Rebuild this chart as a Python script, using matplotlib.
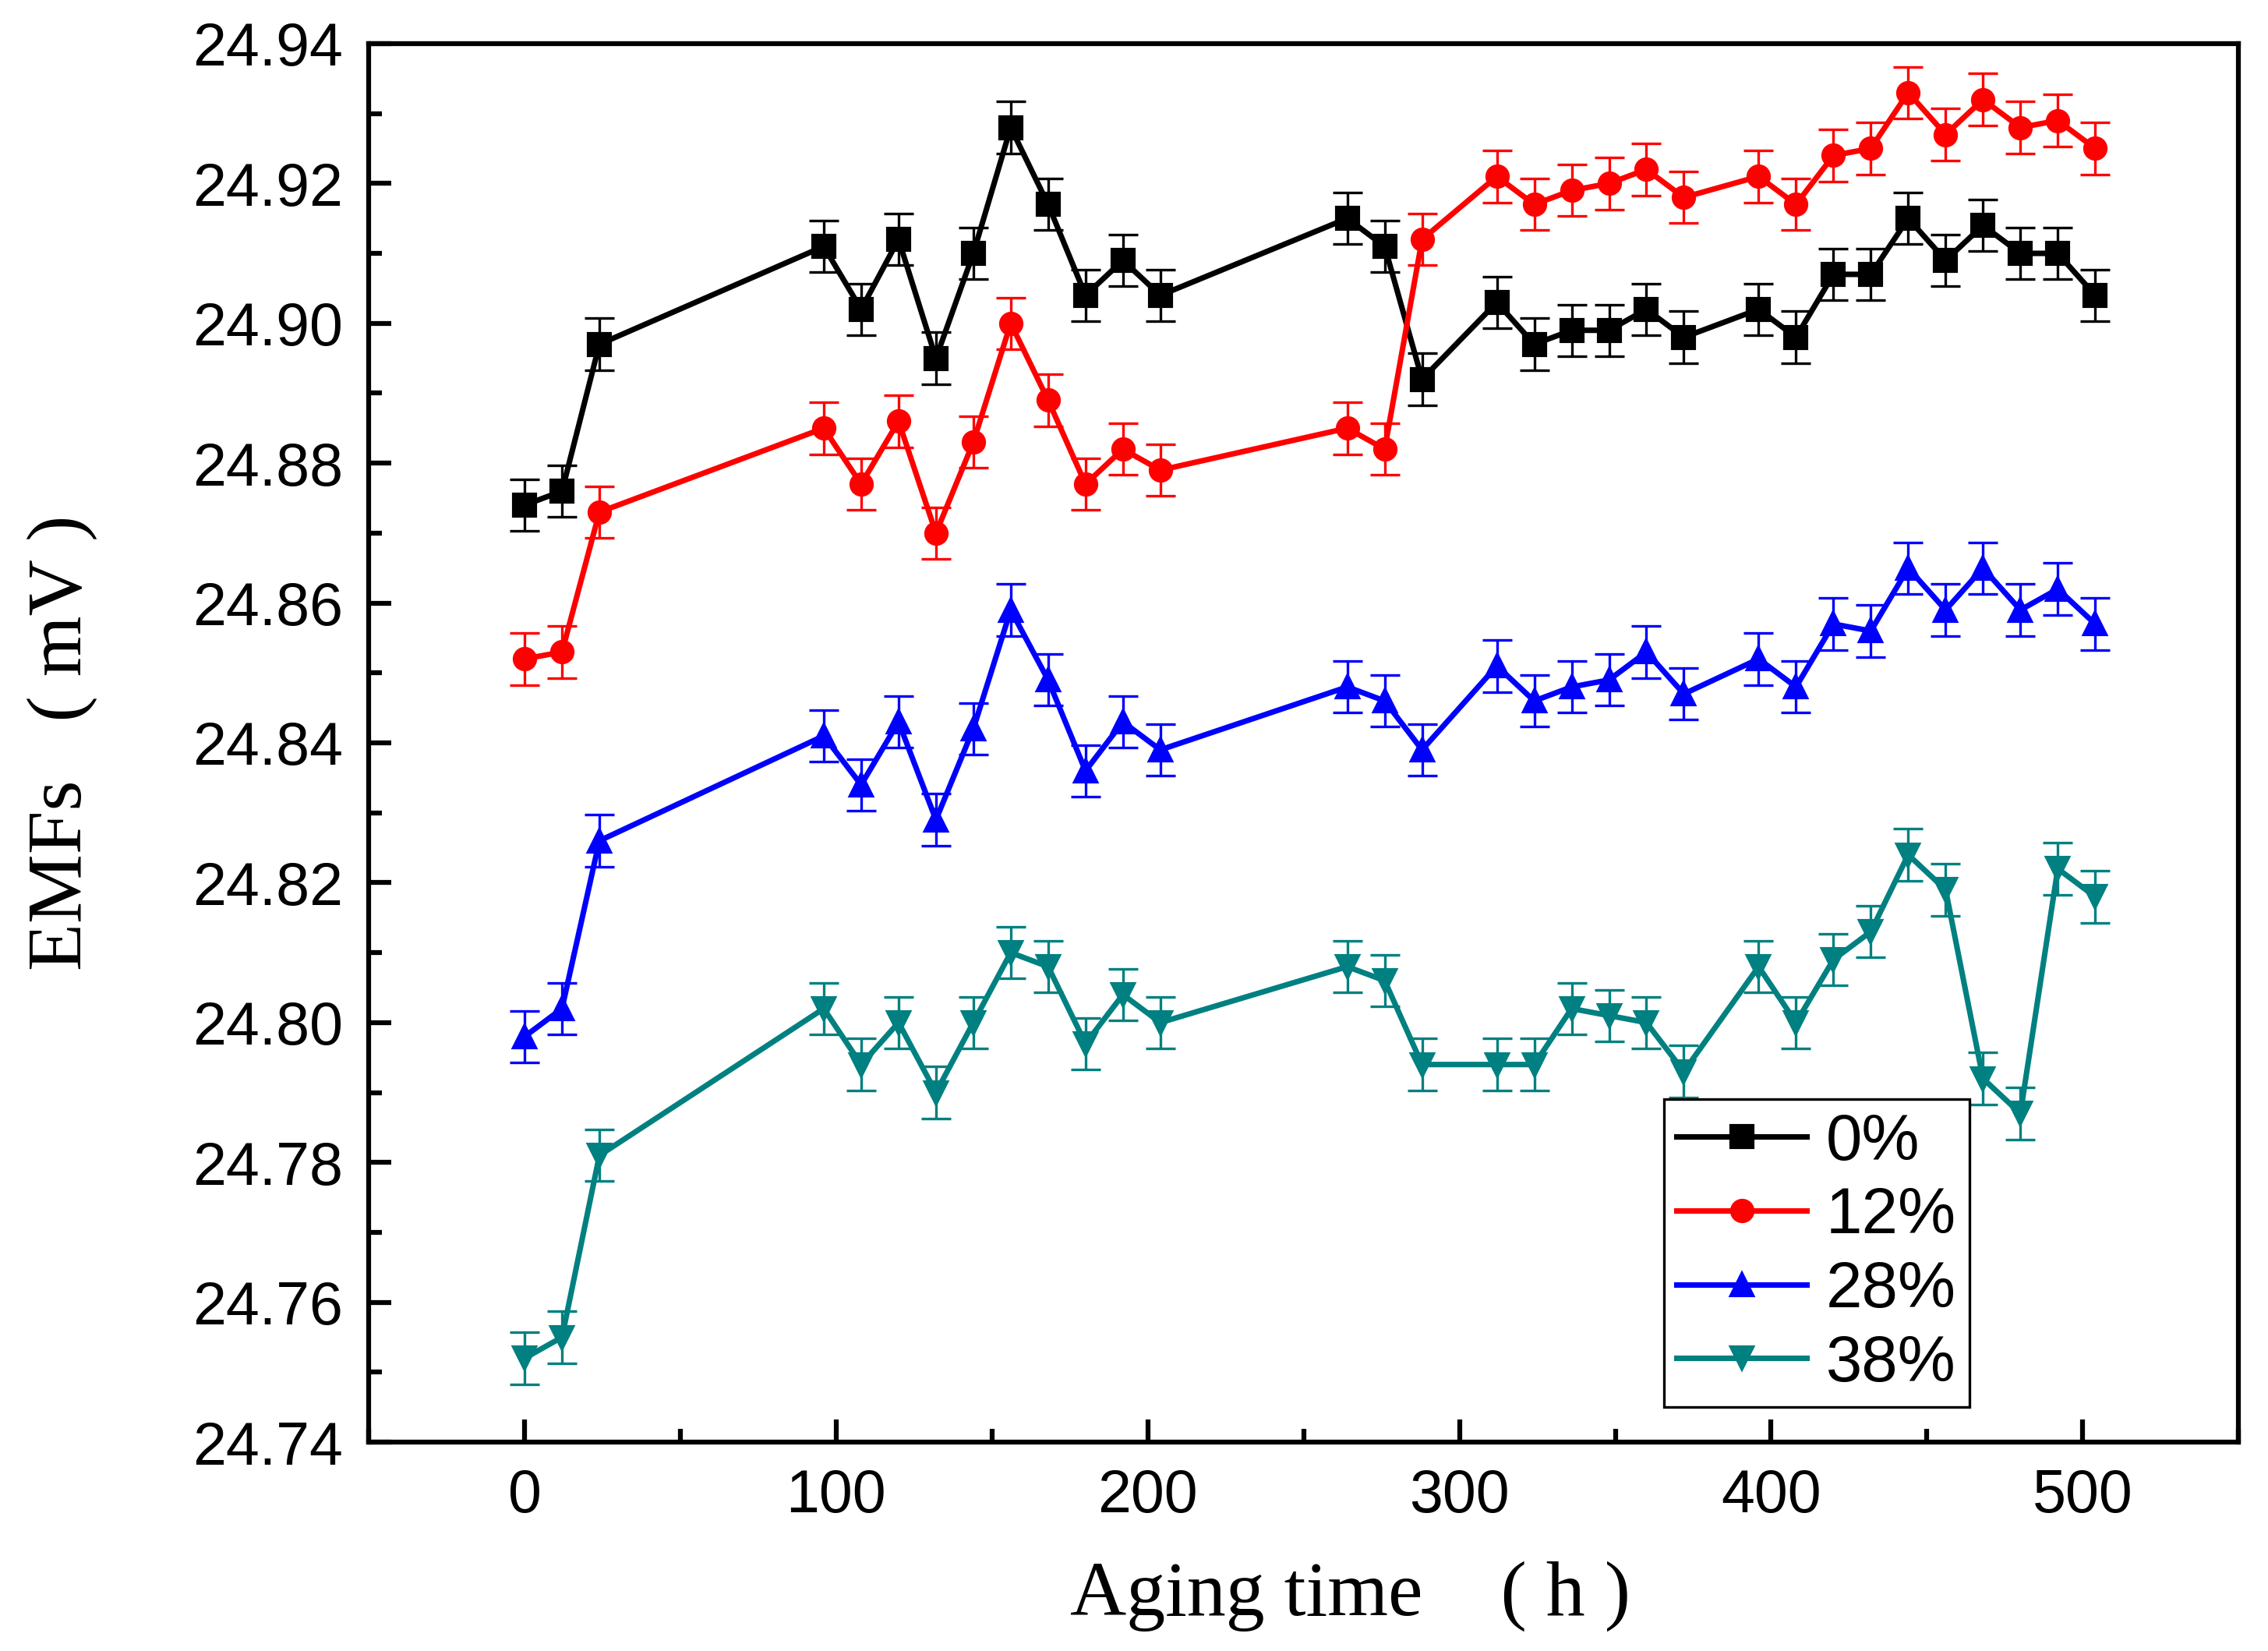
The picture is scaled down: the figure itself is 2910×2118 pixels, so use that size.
import numpy as np
import matplotlib.pyplot as plt
from matplotlib.ticker import MultipleLocator

t = [0, 12, 24, 96, 108, 120, 132, 144, 156, 168, 180, 192, 204, 264, 276, 288,
     312, 324, 336, 348, 360, 372, 396, 408, 420, 432, 444, 456, 468, 480, 492, 504]

emf_0 = [24.874, 24.876, 24.897, 24.911, 24.902, 24.912, 24.895, 24.910, 24.928, 24.917,
         24.904, 24.909, 24.904, 24.915, 24.911, 24.892, 24.903, 24.897, 24.899, 24.899,
         24.902, 24.898, 24.902, 24.898, 24.907, 24.907, 24.915, 24.909, 24.914, 24.910,
         24.910, 24.904]
emf_12 = [24.852, 24.853, 24.873, 24.885, 24.877, 24.886, 24.870, 24.883, 24.900, 24.889,
          24.877, 24.882, 24.879, 24.885, 24.882, 24.912, 24.921, 24.917, 24.919, 24.920,
          24.922, 24.918, 24.921, 24.917, 24.924, 24.925, 24.933, 24.927, 24.932, 24.928,
          24.929, 24.925]
emf_28 = [24.798, 24.802, 24.826, 24.841, 24.834, 24.843, 24.829, 24.842, 24.859, 24.849,
          24.836, 24.843, 24.839, 24.848, 24.846, 24.839, 24.851, 24.846, 24.848, 24.849,
          24.853, 24.847, 24.852, 24.848, 24.857, 24.856, 24.865, 24.859, 24.865, 24.859,
          24.862, 24.857]
emf_38 = [24.752, 24.755, 24.781, 24.802, 24.794, 24.800, 24.790, 24.800, 24.810, 24.808,
          24.797, 24.804, 24.800, 24.808, 24.806, 24.794, 24.794, 24.794, 24.802, 24.801,
          24.800, 24.793, 24.808, 24.800, 24.809, 24.813, 24.824, 24.819, 24.792, 24.787,
          24.822, 24.818]
err = 0.0037

labels = ['0%', '12%', '28%', '38%']
colors = ['black', 'red', 'blue', '#008080']
markers = ['s', 'o', '^', 'v']

plt.rcParams['font.family'] = 'Liberation Sans'

fig = plt.figure(figsize=(9.7, 7.06), dpi=300)
ax = fig.add_axes([0.1626, 0.1265, 0.8244, 0.8471])

for y, lab, c, m in zip([emf_0, emf_12, emf_28, emf_38], labels, colors, markers):
    ax.errorbar(t, y, yerr=err, color=c, fmt='none', elinewidth=0.8,
                capsize=4.5, capthick=0.8)
    ax.plot(t, y, color=c, marker=m, ms=6.5, lw=1.7, label=lab)

ax.set_xlim(-50, 550)
ax.set_ylim(24.74, 24.94)
ax.xaxis.set_major_locator(MultipleLocator(100))
ax.xaxis.set_minor_locator(MultipleLocator(50))
ax.yaxis.set_major_locator(MultipleLocator(0.02))
ax.yaxis.set_minor_locator(MultipleLocator(0.01))
ax.yaxis.set_major_formatter(plt.FormatStrFormatter('%.2f'))
ax.tick_params(which='both', direction='in', width=1.5, labelsize=18.5, pad=8)
ax.tick_params(which='major', length=7)
ax.tick_params(which='minor', length=4)
for s in ax.spines.values():
    s.set_linewidth(1.5)

ax.set_xlabel('Aging time    ( h )', family='Liberation Serif', fontsize=24, labelpad=8)
ax.xaxis.set_label_coords(0.525, -0.085)
ax.set_ylabel('EMFs   ( mV )', family='Liberation Serif', fontsize=24)
ax.yaxis.set_label_coords(-0.145, 0.5)

leg = ax.legend(loc='lower right', bbox_to_anchor=(0.856, 0.025), fontsize=20,
                frameon=True, fancybox=False, edgecolor='black', framealpha=1,
                handlelength=2.0, handletextpad=0.3, borderpad=0.2, labelspacing=0.2,
                borderaxespad=0)
leg.get_frame().set_linewidth(0.8)

fig.savefig('out.png', dpi=300)
